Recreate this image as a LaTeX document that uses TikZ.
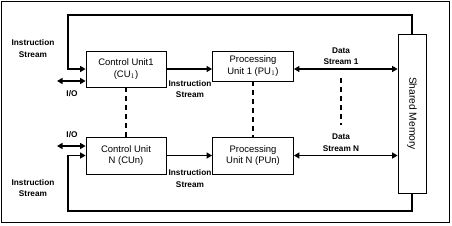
\documentclass[tikz,border=0pt]{standalone}
\usepackage{fontspec}
\setmainfont{Liberation Sans}
\usetikzlibrary{positioning,arrows.meta}
\tikzset{
  unit/.style={draw=black, line width=0.8pt, fill=white, align=center, inner sep=1pt, font=\fontsize{9.5}{11.5}\selectfont},
  flow/.style={draw=black, line width=1.8pt, -{Triangle[length=5.5bp,width=6bp]}},
  dflow/.style={draw=black, line width=1.8pt, {Triangle[length=5.5bp,width=6bp]}-{Triangle[length=5.5bp,width=6bp]}},
  dots/.style={draw=black, line width=1.8pt, dash pattern=on 5bp off 4bp},
  lbl/.style={font=\fontsize{8.3}{11.5}\selectfont\bfseries, align=center, inner sep=0pt}
}

\begin{document}
\begin{tikzpicture}[x=1bp, y=-1bp]
  \useasboundingbox (0,0) rectangle (452,225);
  % Outer frame
  \draw[line width=0.8pt] (1,1) rectangle (449,222);

  % Units
  \node[unit, minimum width=80bp, minimum height=36bp] (cu1) at (126,69) {Control Unit1\\(CU$_1$)};
  \node[unit, minimum width=81bp, minimum height=30bp] (pu1) at (253,66) {Processing\\Unit 1 (PU$_1$)};
  \node[unit, minimum width=80bp, minimum height=37bp] (cun) at (126,155.5) {Control Unit\\N (CUn)};
  \node[unit, minimum width=81bp, minimum height=37bp] (pun) at (253,155.5) {Processing\\Unit N (PUn)};

  % Shared memory
  \node[unit, minimum width=159bp, minimum height=28bp, rotate=-90, font=\fontsize{10.3}{12}\selectfont] (mem) at (412,113.5) {Shared Memory};

  % Corner points of the loops and I/O ends
  \coordinate (tl) at (68,15);
  \coordinate (bl) at (68,211);
  \coordinate (io1) at (57,81);
  \coordinate (ion) at (57,146);

  % Instruction stream loops
  \draw[flow] (mem.west) |- (tl) |- (cu1.west);
  \draw[flow] (mem.east) |- (bl) |- (cun.west);

  % I/O
  \draw[dflow] (io1) -- (io1 -| cu1.west);
  \draw[dflow] (ion) -- (ion -| cun.west);

  % Control unit to processing unit
  \draw[flow] (cu1.east) -- (cu1.east -| pu1.west);
  \draw[flow] (cun.east) -- (cun.east -| pun.west);

  % Data streams
  \draw[dflow] (cu1.east -| pu1.east) -- (cu1.east -| mem.south);
  \draw[dflow] (pun.east) -- (pun.east -| mem.south);

  % Dashed links
  \draw[dots] (cu1.south) -- (cun.north);
  \draw[dots] (pu1.south) -- (pun.north);
  \coordinate (d1) at (341,78);
  \coordinate (d2) at (341,125);
  \draw[dots] (d1) -- (d2);

  % Labels
  \node[lbl] (is1) at (33,48.5) {Instruction\\Stream};
  \node[lbl] (is2) at (33,188) {Instruction\\Stream};
  \node[lbl] (is3) at (190,89) {Instruction\\Stream};
  \node[lbl] (is4) at (190,178.5) {Instruction\\Stream};
  \node[lbl] (io1l) at (72,94) {I/O};
  \node[lbl] (ionl) at (72,135) {I/O};
  \node[lbl] (ds1) at (341,56) {Data\\Stream 1};
  \node[lbl] (dsn) at (341,142.5) {Data\\Stream N};
\end{tikzpicture}
\end{document}
